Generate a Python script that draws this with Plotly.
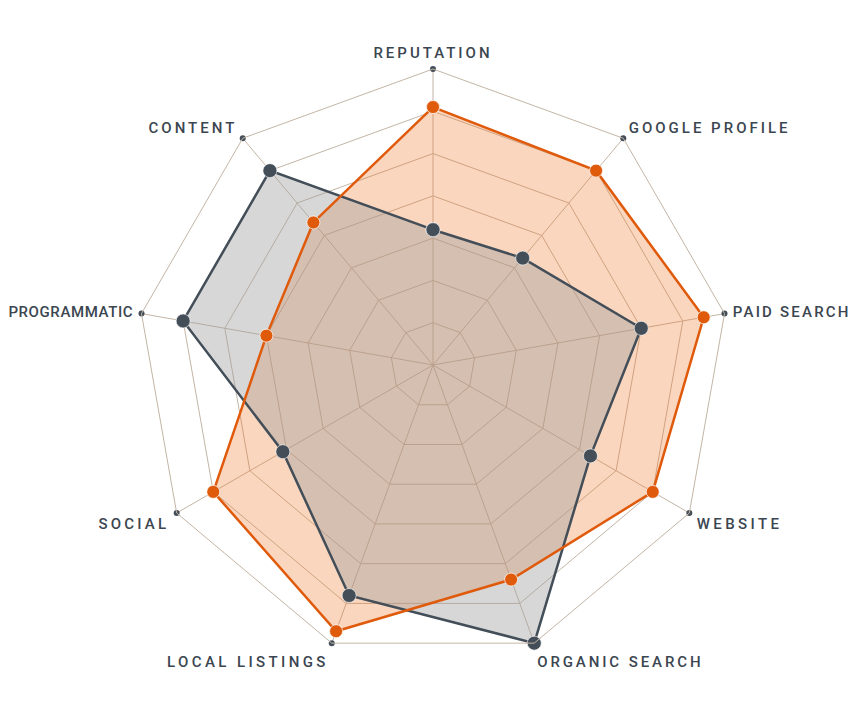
import plotly.graph_objects as go

categories = ["REPUTATION", "GOOGLE PROFILE", "PAID SEARCH", "WEBSITE", "ORGANIC SEARCH",
              "LOCAL LISTINGS", "SOCIAL", "PROGRAMMATIC", "CONTENT"]
orange_values = [6.1, 6.0, 6.5, 6.0, 5.4, 6.7, 6.0, 4.0, 4.4]
grey_values = [3.2, 3.3, 5.0, 4.3, 7.0, 5.8, 4.1, 6.0, 6.0]
axis_max = 7

ORANGE = "#e05a0c"
SLATE = "#434e58"
GRID = "#c3b5a6"

# letter spacing (px) per label, to mimic the tracked condensed lettering
label_spacing = [3.0, 3.0, 2.2, 3.4, 2.9, 3.4, 3.2, 0.6, 3.0]

def closed(v):
    return list(v) + [v[0]]

theta_c = closed(categories)

fig = go.Figure()
fig.add_trace(go.Scatterpolar(r=closed(orange_values), theta=theta_c, mode="none",
                              fill="toself", fillcolor="rgba(240,120,40,0.30)",
                              hoverinfo="skip", showlegend=False))
fig.add_trace(go.Scatterpolar(r=closed(grey_values), theta=theta_c, mode="none",
                              fill="toself", fillcolor="rgba(160,160,160,0.42)",
                              hoverinfo="skip", showlegend=False))
fig.add_trace(go.Scatterpolar(r=closed(grey_values), theta=theta_c, mode="lines+markers",
                              line=dict(color=SLATE, width=2.5),
                              marker=dict(size=14, color=SLATE, line=dict(color="rgba(255,255,255,0.6)", width=1)),
                              showlegend=False))
fig.add_trace(go.Scatterpolar(r=closed(orange_values), theta=theta_c, mode="lines+markers",
                              line=dict(color=ORANGE, width=2.5),
                              marker=dict(size=13, color=ORANGE, line=dict(color="rgba(255,255,255,0.7)", width=1)),
                              showlegend=False))
fig.add_trace(go.Scatterpolar(r=[axis_max] * len(categories), theta=categories, mode="markers",
                              marker=dict(size=6, color=SLATE), showlegend=False))

ticktext = ['<span style="letter-spacing:%.1fpx">%s</span>' % (s, c)
            for c, s in zip(categories, label_spacing)]

cx, cy, R = 425, 357, 296  # domain centre (pixels) and half-size

fig.update_layout(
    width=860, height=707,
    margin=dict(l=0, r=0, t=0, b=0),
    paper_bgcolor="white",
    plot_bgcolor="white",
    font=dict(family="Roboto, 'Noto Sans', sans-serif", color="#3b4650"),
    polar=dict(
        domain=dict(x=[(cx - R) / 860, (cx + R) / 860],
                    y=[(707 - cy - R) / 707, (707 - cy + R) / 707]),
        bgcolor="rgba(0,0,0,0)",
        gridshape="linear",
        radialaxis=dict(range=[0, axis_max], dtick=1, showticklabels=False, ticks="",
                        showline=False, gridcolor=GRID, gridwidth=1),
        angularaxis=dict(direction="clockwise", rotation=90, categoryorder="array",
                         categoryarray=categories, tickvals=categories, ticktext=ticktext,
                         showline=True, linecolor=GRID, linewidth=1,
                         gridcolor=GRID, gridwidth=1,
                         ticks="outside", ticklen=5, tickcolor="rgba(0,0,0,0)",
                         tickfont=dict(size=15, color="#3b4650",
                                       family="Roboto, 'Noto Sans', sans-serif", weight=500)),
    ),
)

fig.write_html("out.html")
